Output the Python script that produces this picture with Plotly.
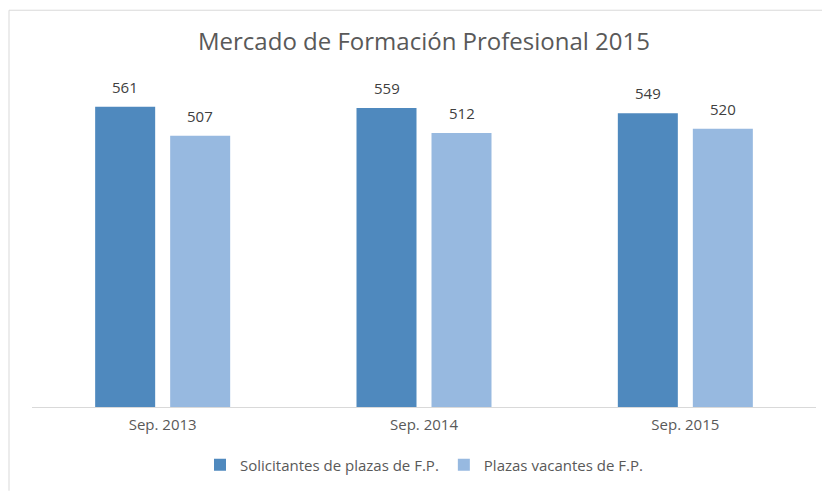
import plotly.graph_objects as go

categories = ["Sep. 2013", "Sep. 2014", "Sep. 2015"]
solicitantes = [561, 559, 549]
vacantes = [507, 512, 520]
series_names = ["Solicitantes de plazas de F.P.", "Plazas vacantes de F.P."]
colors = ["#4F89BE", "#97B9E0"]

FONT = "Open Sans"

# page body has an 8px margin; figure sized to fit the 830x492 window
W, H = 822, 484
L, R, T, B = 24, 14, 78, 84
PH = H - T - B
PW = W - L - R

fig = go.Figure()
fig.add_trace(go.Bar(x=categories, y=solicitantes, name=series_names[0],
                     marker=dict(color=colors[0], line=dict(width=0))))
fig.add_trace(go.Bar(x=categories, y=vacantes, name=series_names[1],
                     marker=dict(color=colors[1], line=dict(width=0))))

annotations = []
for vals, shift in [(solicitantes, -37.5), (vacantes, 37.5)]:
    for c, v in zip(categories, vals):
        annotations.append(dict(x=c, y=v, text=str(v), showarrow=False,
                                xshift=shift, yshift=8, yanchor="bottom",
                                font=dict(family=FONT, size=15, color="#404040")))

fig.update_layout(
    width=W, height=H,
    margin=dict(l=L, r=R, t=T, b=B),
    paper_bgcolor="white", plot_bgcolor="white",
    barmode="group", bargap=0.426, bargroupgap=0.2,
    title=dict(text="Mercado de Formación Profesional 2015",
               x=0.5, xref="paper", xanchor="center",
               y=1 - 34 / H, yanchor="middle",
               font=dict(family=FONT, size=24, color="#595959")),
    xaxis=dict(showline=True, linecolor="#D9D9D9", linewidth=1,
               ticks="", showgrid=False, ticklabelstandoff=4,
               tickfont=dict(family=FONT, size=15, color="#595959")),
    yaxis=dict(range=[0, 600], visible=False, showgrid=False, zeroline=False),
    legend=dict(orientation="h", x=0.5, xanchor="center",
                y=(T + PH - 457) / PH, yanchor="middle",
                font=dict(family=FONT, size=15, color="#595959"),
                itemwidth=30, traceorder="normal"),
    annotations=annotations,
    showlegend=True,
)

# faint chart border (top and left)
ytop = (T + PH - 2) / PH
fig.add_shape(type="line", xref="paper", yref="paper",
              x0=(1 - L) / PW, x1=(W - L) / PW,
              y0=ytop, y1=ytop,
              line=dict(color="#D9D9D9", width=1))
fig.add_shape(type="line", xref="paper", yref="paper",
              x0=(1 - L) / PW, x1=(1 - L) / PW,
              y0=ytop, y1=(T + PH - H) / PH,
              line=dict(color="#D9D9D9", width=1))

fig.write_html("out.html")
